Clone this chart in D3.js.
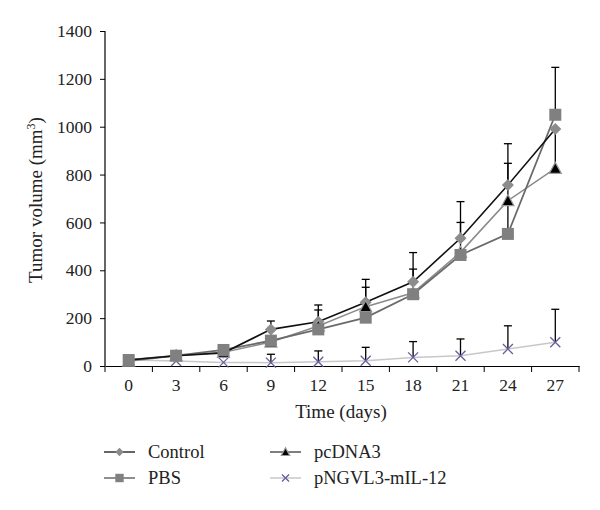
<!DOCTYPE html>
<html><head><meta charset="utf-8">
<script src="https://cdn.jsdelivr.net/npm/d3@7"></script>
<style>body{margin:0;background:#fff}svg{display:block}text{font-family:"Liberation Serif","DejaVu Serif",serif;fill:#222}</style>
</head><body><svg id="c" width="600" height="510"></svg>
<script>
const days = [0,3,6,9,12,15,18,21,24,27];
const yTicks = [0,200,400,600,800,1000,1200,1400];
const control = [25,43,55,153,185,266,352,534,756,990];
const pbs = [25,43,67,106,153,202,300,464,552,1050];
const pcdna3 = [20,43,57,100,167,248,306,475,691,826];
const pngvl3 = [25,21,15,14,18,22,36,43,71,99];
const controlErrTop = [null,null,null,188,255,362,474,687,929,null];
const pbsErrTop = [null,null,null,null,null,null,null,null,847,1248];
const pcdna3ErrTop = [null,null,null,null,234,329,405,600,null,990];
const pngvl3ErrTop = [null,null,null,49,63,78,102,113,168,237];
const seriesNames = ["Control","PBS","pcDNA3","pNGVL3-mIL-12"];

const svg = d3.select("#c");
const x = d3.scaleBand().domain(days).range([105,579]);
const y = d3.scaleLinear().domain([0,1400]).range([366,31]);
const cx = d => x(d) + x.bandwidth()/2;

const gx = svg.append("g").attr("transform","translate(0,366)")
  .call(d3.axisBottom(x).tickSize(0).tickPadding(13));
gx.select(".domain").attr("stroke","#000").attr("stroke-width",1.2);
gx.selectAll("text").style("font-size","17.5px").style("font-family","Liberation Serif").attr("fill","#222");
const bounds = days.map(d=>x(d)).concat([x(days[days.length-1])+x.bandwidth()]);
gx.selectAll(".bt").data(bounds).enter().append("line")
  .attr("x1",d=>d).attr("x2",d=>d).attr("y1",0).attr("y2",6).attr("stroke","#000");

const gy = svg.append("g").attr("transform","translate(105,0)")
  .call(d3.axisLeft(y).tickValues(yTicks).tickFormat(d3.format("d")).tickSize(5).tickPadding(8));
gy.select(".domain").attr("stroke","#000").attr("stroke-width",1.2).attr("d","M-0,31V366");
gy.selectAll("line").attr("stroke","#000");
gy.selectAll("text").style("font-size","17.5px").style("font-family","Liberation Serif").attr("fill","#222");

svg.append("text").attr("x",341).attr("y",418).attr("text-anchor","middle").style("font-size","19px").text("Time (days)");
const yl = svg.append("text").attr("transform","translate(42,200) rotate(-90)").attr("text-anchor","middle").style("font-size","19px");
yl.append("tspan").text("Tumor volume (mm");
yl.append("tspan").attr("dy",-7).style("font-size","12px").text("3");
yl.append("tspan").attr("dy",7).text(")");

function errBars(vals, tops){
  const g = svg.append("g");
  days.forEach((d,i)=>{
    if(tops[i]==null) return;
    const X = cx(d);
    g.append("line").attr("x1",X).attr("x2",X).attr("y1",y(vals[i])).attr("y2",y(tops[i])).attr("stroke","#000").attr("stroke-width",1.3);
    g.append("line").attr("x1",X-4).attr("x2",X+4).attr("y1",y(tops[i])).attr("y2",y(tops[i])).attr("stroke","#000").attr("stroke-width",1.3);
  });
}
errBars(pngvl3, pngvl3ErrTop);
errBars(control, controlErrTop);
errBars(pbs, pbsErrTop);
errBars(pcdna3, pcdna3ErrTop);

const line = vals => d3.line().x((v,i)=>cx(days[i])).y(v=>y(v))(vals);
const styles = [
  {vals:pngvl3, stroke:"#c8c8c8", w:1.5, mark:"x"},
  {vals:pcdna3, stroke:"#8a8a8a", w:1.5, mark:"tri"},
  {vals:pbs, stroke:"#6a6a6a", w:1.8, mark:"sq"},
  {vals:control, stroke:"#111", w:1.6, mark:"dia"}
];
function drawMark(g, mark, X, Y, s){
  s = s || 1;
  if(mark==="dia") g.append("path").attr("d",`M${X},${Y-6*s}L${X+6*s},${Y}L${X},${Y+6*s}L${X-6*s},${Y}Z`).attr("fill","#8c8c8c");
  else if(mark==="sq") g.append("rect").attr("x",X-6*s).attr("y",Y-6*s).attr("width",12*s).attr("height",12*s).attr("fill","#808080");
  else if(mark==="tri") g.append("path").attr("d",`M${X},${Y-6*s}L${X+6*s},${Y+5*s}L${X-6*s},${Y+5*s}Z`).attr("fill","#000").attr("stroke","#999").attr("stroke-width",1.2);
  else g.append("path").attr("d",`M${X-5*s},${Y-5*s}L${X+5*s},${Y+5*s}M${X-5*s},${Y+5*s}L${X+5*s},${Y-5*s}`).attr("stroke","#6b5c9c").attr("stroke-width",1.3);
}
styles.forEach(s=>{
  svg.append("path").attr("d",line(s.vals)).attr("fill","none").attr("stroke",s.stroke).attr("stroke-width",s.w);
});
[styles[0],styles[3],styles[1],styles[2]].forEach(s=>{
  const g = svg.append("g");
  s.vals.forEach((v,i)=>drawMark(g,s.mark,cx(days[i]),y(v)));
});

const leg = [
  {name:seriesNames[0], stroke:"#333", mark:"dia", x:104, y:452},
  {name:seriesNames[1], stroke:"#6a6a6a", mark:"sq", x:104, y:478},
  {name:seriesNames[2], stroke:"#555", mark:"tri", x:270, y:452},
  {name:seriesNames[3], stroke:"#c8c8c8", mark:"x", x:270, y:478}
];
leg.forEach(l=>{
  const g = svg.append("g");
  g.append("line").attr("x1",l.x).attr("x2",l.x+31).attr("y1",l.y).attr("y2",l.y).attr("stroke",l.stroke).attr("stroke-width",1.5);
  drawMark(g,l.mark,l.x+15.5,l.y,0.7);
  g.append("text").attr("x",l.x+44).attr("y",l.y+6).style("font-size","18.5px").text(l.name);
});
</script></body></html>
